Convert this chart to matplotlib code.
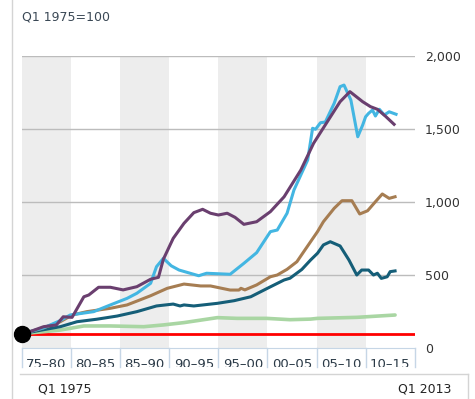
import matplotlib.pyplot as plt
from matplotlib.lines import Line2D
from matplotlib.transforms import Bbox
import matplotlib.transforms as mtransforms

# values (index, Q1 1975 = 100)
purple_years = [1975.0, 1975.8, 1977.2, 1978.5, 1979.2, 1980.1, 1981.3, 1981.8, 1982.8, 1984.0,
                1985.3, 1986.7, 1988.1, 1988.9, 1989.4, 1990.4, 1991.5, 1992.5, 1993.4, 1994.2,
                1995.0, 1995.9, 1996.7, 1997.6, 1998.9, 2000.3, 2001.7, 2003.4, 2004.7, 2006.1,
                2007.4, 2008.4, 2009.7, 2010.5, 2011.2, 2012.0, 2012.9]
purple_vals = [100, 114, 148, 160, 216, 212, 353, 365, 418, 418,
               400, 422, 473, 486, 610, 753, 856, 929, 952, 925,
               913, 925, 897, 849, 867, 936, 1038, 1221, 1404, 1552,
               1689, 1758, 1689, 1655, 1637, 1591, 1534]

blue_years = [1975.0, 1977.2, 1978.9, 1979.9, 1982.3, 1984.0, 1985.7, 1986.7, 1988.1, 1988.7,
              1989.4, 1990.2, 1991.0, 1993.0, 1993.8, 1996.2, 1997.6, 1998.9, 2000.3, 2001.0,
              2002.0, 2002.7, 2004.1, 2004.6, 2004.9, 2005.4, 2005.9, 2006.8, 2007.4, 2007.8,
              2008.5, 2009.2, 2009.7, 2010.0, 2010.3, 2010.7, 2011.0, 2011.4, 2011.9, 2012.4,
              2013.1]
blue_vals = [100, 140, 190, 228, 251, 297, 342, 377, 445, 559,
             616, 565, 536, 497, 514, 507, 582, 655, 799, 810,
             925, 1084, 1290, 1507, 1500, 1545, 1550, 1678, 1792, 1803,
             1700, 1449, 1529, 1586, 1609, 1632, 1591, 1637, 1598, 1620,
             1603]

brown_years = [1975.0, 1977.0, 1978.9, 1980.1, 1981.6, 1984.0, 1985.7, 1988.1, 1989.8, 1991.5,
               1993.2, 1994.2, 1996.2, 1997.1, 1997.3, 1997.7, 1998.9, 2000.3, 2001.0, 2002.0,
               2003.0, 2003.7, 2005.1, 2005.7, 2006.8, 2007.6, 2008.6, 2009.4, 2010.2, 2011.0,
               2011.7, 2012.4, 2013.0]
brown_vals = [100, 135, 182, 228, 251, 274, 297, 360, 411, 440,
              427, 427, 399, 399, 411, 400, 434, 490, 502, 541,
              593, 662, 799, 867, 959, 1011, 1011, 920, 942, 1004,
              1057, 1027, 1038]

teal_years = [1975.0, 1977.0, 1978.9, 1980.6, 1982.6, 1984.7, 1986.7, 1988.7, 1990.4, 1991.1,
              1991.5, 1992.5, 1994.9, 1996.6, 1998.3, 2000.0, 2001.7, 2002.3, 2003.5, 2004.4,
              2005.1, 2005.7, 2006.4, 2007.4, 2008.3, 2009.1, 2009.6, 2010.3, 2010.8, 2011.2,
              2011.6, 2012.2, 2012.5, 2013.0]
teal_vals = [100, 125, 148, 182, 199, 221, 251, 290, 303, 290,
             297, 290, 308, 326, 353, 411, 468, 480, 540, 605,
             651, 708, 730, 701, 605, 502, 536, 536, 502, 514,
             479, 490, 525, 530]

green_years = [1975.0, 1978.9, 1981.3, 1984.0, 1987.4, 1989.4, 1991.5, 1994.9, 1996.9, 1999.9,
               2002.3, 2004.4, 2005.1, 2009.1, 2013.0]
green_vals = [100, 125, 153, 153, 148, 160, 176, 210, 205, 205,
              196, 200, 205, 212, 228]

band_starts = [1975, 1980, 1985, 1990, 1995, 2000, 2005, 2010]
band_labels = ['75–80', '80–85', '85–90', '90–95', '95–00', '00–05', '05–10', '10–15']
y_ticks = [0, 500, 1000, 1500, 2000]
y_labels = ['0', '500', '1,000', '1,500', '2,000']

W, H = 475, 399
fig = plt.figure(figsize=(W / 100, H / 100), dpi=100)
ax_l, ax_r, ax_t, ax_b = 22, 414.7, 56.3, 348.3
ax = fig.add_axes([ax_l / W, 1 - ax_b / H, (ax_r - ax_l) / W, (ax_b - ax_t) / H])
ax.set_xlim(1975, 2015)
ax.set_ylim(0, 2000)

for i, b in enumerate(band_starts):
    if i % 2 == 0:
        ax.axvspan(b, b + 5, color='#ededed', lw=0, zorder=0)
for v in y_ticks[1:]:
    ax.axhline(v, color='#bcbcbc', lw=1, zorder=1)

ax.axhline(100, color='#ff0000', lw=2, zorder=2)
ax.plot(green_years, green_vals, color='#a9d6a3', lw=2.6, zorder=3, solid_capstyle='round')
ax.plot(teal_years, teal_vals, color='#155e78', lw=2.2, zorder=4)
ax.plot(brown_years, brown_vals, color='#a67d52', lw=2.2, zorder=4)
ax.plot(blue_years, blue_vals, color='#43b6e2', lw=2.2, zorder=5)
ax.plot(purple_years, purple_vals, color='#6a3f6f', lw=2.2, zorder=6)
ax.plot([1975], [100], 'o', color='black', ms=11.5, clip_on=False, zorder=10)

for s in ['top', 'left', 'right']:
    ax.spines[s].set_visible(False)
ax.spines['bottom'].set_color('#c6d6e6')
ax.set_xticks([])
ax.yaxis.tick_right()
ax.set_yticks(y_ticks)
ax.set_yticklabels(y_labels)
ax.tick_params(axis='y', length=0, pad=7.5, labelsize=9, labelcolor='#333333')

# band labels with separators, clipped at the bottom like the original
trans = mtransforms.blended_transform_factory(ax.transData, ax.transAxes)
sep_bot = -(366.7 - ax_b) / (ax_b - ax_t)
for b in band_starts + [2015]:
    ax.plot([b, b], [0, sep_bot], color='#c6d6e6', lw=1, transform=trans, clip_on=False)
clip = Bbox.from_extents(0, H - 366.7, W, H - ax_b)
base_y = -(368 - ax_b) / (ax_b - ax_t)
for b, lab in zip(band_starts, band_labels):
    t = ax.text(b + 2.5, base_y, lab, transform=trans, ha='center', va='baseline',
                fontsize=9.5, color='#2b3a47')
    t.set_clip_box(clip)
    t.set_clip_on(True)

fig.text(22 / W, 1 - 17.5 / H, 'Q1 1975=100', va='center', ha='left', fontsize=9, color='#3a4855')
fig.text(38 / W, 1 - 393 / H, 'Q1 1975', va='baseline', ha='left', fontsize=9, color='#222222')
fig.text(451 / W, 1 - 393 / H, 'Q1 2013', va='baseline', ha='right', fontsize=9, color='#222222')

fig.add_artist(Line2D([11.7 / W, 11.7 / W], [0, 1], color='#d4d4d4', lw=1))
fig.add_artist(Line2D([20 / W, 468 / W], [1 - 374.3 / H, 1 - 374.3 / H], color='#d4d4d4', lw=1))
fig.add_artist(Line2D([468 / W, 468 / W], [0, 1 - 374.3 / H], color='#d4d4d4', lw=1))

fig.savefig('out.png', dpi=100)
